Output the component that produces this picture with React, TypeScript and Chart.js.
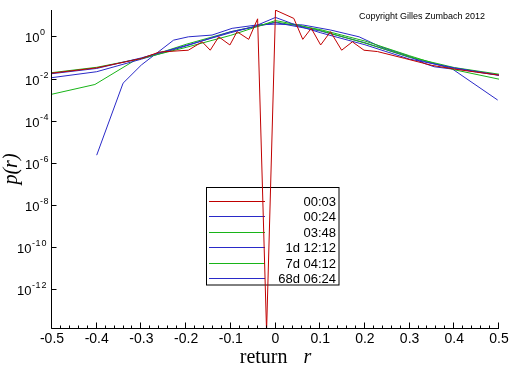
import React, { useEffect, useRef } from 'react';
import { Chart, registerables } from 'chart.js';

Chart.register(...registerables);

// ---------- data ----------
const seriesLabels = ['00:03', '00:24', '03:48', '1d 12:12', '7d 04:12', '68d 06:24'];
const seriesColors = ['#c00000', '#2a2ac8', '#18b418', '#2a2ac8', '#18b418', '#2a2ac8'];

const r0003 = [-0.5, -0.4, -0.3, -0.26, -0.195, -0.164, -0.146, -0.127, -0.102, -0.086, -0.06, -0.04, -0.02, 0, 0.041, 0.061, 0.08, 0.101, 0.123, 0.148, 0.172, 0.198, 0.228, 0.288, 0.35, 0.4, 0.45, 0.5];
const p0003 = [1.8e-2, 3.2e-2, 8.9e-2, 0.18, 0.22, 0.55, 0.22, 0.95, 0.39, 1.66, 0.72, 6.8, 1e-14, 17.5, 7.1, 0.72, 2.4, 0.39, 1.66, 0.22, 0.55, 0.22, 0.19, 9.1e-2, 4.2e-2, 2.8e-2, 2.0e-2, 1.45e-2];

const r0024 = [-0.5, -0.4, -0.3, -0.2, -0.1, -0.05, 0, 0.05, 0.1, 0.2, 0.3, 0.4, 0.5];
const p0024 = [1.7e-2, 3.0e-2, 9.5e-2, 0.37, 1.5, 2.8, 7.9, 3.2, 1.5, 0.40, 8.3e-2, 3.2e-2, 1.45e-2];

const r0348 = [-0.5, -0.4, -0.3, -0.2, -0.1, -0.05, 0, 0.05, 0.1, 0.2, 0.3, 0.4, 0.5];
const p0348 = [1.9e-2, 3.4e-2, 8.9e-2, 0.30, 1.12, 2.5, 5.6, 3.5, 1.9, 0.48, 0.105, 3.3e-2, 1.6e-2];

const r1d = [-0.5, -0.4, -0.3, -0.2, -0.1, 0, 0.1, 0.2, 0.3, 0.35, 0.4, 0.5];
const p1d = [1.1e-2, 2.1e-2, 8.3e-2, 0.35, 1.66, 4.5, 1.8, 0.50, 0.10, 5.2e-2, 3.0e-2, 1.4e-2];

const r7d = [-0.5, -0.404, -0.314, -0.25, -0.2, -0.1, 0, 0.1, 0.2, 0.3, 0.4, 0.5];
const p7d = [1.8e-3, 5.2e-3, 7.4e-2, 0.19, 0.42, 1.66, 4.8, 2.1, 0.60, 0.12, 2.6e-2, 9.3e-3];

const r68d = [-0.4, -0.341, -0.3, -0.228, -0.195, -0.142, -0.097, -0.04, 0, 0.06, 0.123, 0.187, 0.235, 0.303, 0.333, 0.355, 0.396, 0.497];
const p68d = [2.3e-6, 6.0e-3, 4.4e-2, 0.66, 0.95, 1.15, 2.4, 3.5, 3.8, 3.5, 2.0, 0.95, 0.32, 0.107, 5.2e-2, 3.6e-2, 2.8e-2, 9.5e-4];

const seriesR = [r0003, r0024, r0348, r1d, r7d, r68d];
const seriesP = [p0003, p0024, p0348, p1d, p7d, p68d];

const xTickLabels = ['-0.5', '-0.4', '-0.3', '-0.2', '-0.1', '0', '0.1', '0.2', '0.3', '0.4', '0.5'];
const yTickExponents = [0, -2, -4, -6, -8, -10, -12];
const copyrightText = 'Copyright Gilles Zumbach 2012';

const SANS = '"Liberation Sans", Arial, sans-serif';
const SERIF = '"Liberation Serif", "Times New Roman", serif';

const overlayPlugin = {
  id: 'overlay',
  beforeDatasetsDraw(chart: any) {
    const ctx = chart.ctx;
    ctx.save();
    const bx = 206.5, by = 187.5, bw = 132.5, bh = 97.5;
    ctx.fillStyle = '#fff';
    ctx.fillRect(bx, by, bw, bh);
    ctx.strokeStyle = '#000';
    ctx.lineWidth = 1;
    ctx.strokeRect(bx, by, bw, bh);
    seriesLabels.forEach((lab, i) => {
      const yy = Math.round(201 + i * 15.45) + 0.5;
      ctx.strokeStyle = seriesColors[i];
      ctx.beginPath();
      ctx.moveTo(209, yy);
      ctx.lineTo(265, yy);
      ctx.stroke();
      ctx.fillStyle = '#000';
      ctx.font = '13px ' + SANS;
      ctx.textAlign = 'right';
      ctx.textBaseline = 'middle';
      ctx.fillText(lab, 336, yy + 0.5);
    });
    ctx.restore();
  },
  afterDraw(chart: any) {
    const ctx = chart.ctx;
    const { left, right, top, bottom } = chart.chartArea;
    const xs = chart.scales.x;
    const ys = chart.scales.y;
    ctx.save();
    ctx.strokeStyle = '#000';
    ctx.lineWidth = 1;
    const ax = Math.round(left) - 0.5;
    const ay = Math.round(bottom) + 0.5;
    ctx.beginPath();
    ctx.moveTo(ax, top);
    ctx.lineTo(ax, ay);
    ctx.lineTo(right, ay);
    ctx.stroke();
    // x ticks (inward)
    for (let i = 0; i <= 50; i++) {
      const v = -0.5 + i * 0.02;
      const px = Math.round(xs.getPixelForValue(v)) - 0.5;
      const len = i % 5 === 0 ? 6 : 3;
      ctx.beginPath();
      ctx.moveTo(px, ay);
      ctx.lineTo(px, ay - len);
      ctx.stroke();
    }
    // y ticks and labels
    yTickExponents.forEach((e) => {
      const py = Math.round(ys.getPixelForValue(Math.pow(10, e))) + 0.5;
      ctx.beginPath();
      ctx.moveTo(ax, py);
      ctx.lineTo(ax + 5, py);
      ctx.stroke();
      const expStr = e === 0 ? '0' : '-' + String(-e);
      const twoDigit = Math.abs(e) >= 10;
      const bxStart = twoDigit ? 17 : 25;
      ctx.fillStyle = '#000';
      ctx.textAlign = 'left';
      ctx.textBaseline = 'alphabetic';
      ctx.font = '13px ' + SANS;
      ctx.fillText('10', bxStart, py + 5);
      const bw = ctx.measureText('10').width;
      ctx.font = '9px ' + SANS;
      let ex = bxStart + bw + 0.5;
      for (const ch of expStr) {
        ctx.fillText(ch, ex, py - 1.5);
        ex += ctx.measureText(ch).width + (ch === '-' ? 0.5 : 1);
      }
    });
    // axis titles
    ctx.fillStyle = '#000';
    ctx.textBaseline = 'alphabetic';
    ctx.font = '20px ' + SERIF;
    const wRet = ctx.measureText('return').width;
    ctx.font = 'italic 20px ' + SERIF;
    const wR = ctx.measureText('r').width;
    const gap = 16;
    const cx = (left + right) / 2;
    const startX = cx - (wRet + gap + wR) / 2;
    ctx.textAlign = 'left';
    ctx.font = '20px ' + SERIF;
    ctx.fillText('return', startX, 363);
    ctx.font = 'italic 20px ' + SERIF;
    ctx.fillText('r', startX + wRet + gap, 363);

    ctx.save();
    ctx.translate(17, (top + bottom) / 2);
    ctx.rotate(-Math.PI / 2);
    ctx.textAlign = 'center';
    ctx.font = 'italic 20px ' + SERIF;
    ctx.fillText('p(r)', 0, 0);
    ctx.restore();

    // copyright
    ctx.font = '9px ' + SANS;
    ctx.textAlign = 'left';
    ctx.fillText(copyrightText, 359, 19);
    ctx.restore();
  },
};

export default function App() {
  const canvasRef = useRef<HTMLCanvasElement | null>(null);
  useEffect(() => {
    if (!canvasRef.current) return;
    const datasets = seriesLabels.map((lab, i) => ({
      label: lab,
      data: seriesR[i].map((r, j) => ({ x: r, y: seriesP[i][j] })),
      borderColor: seriesColors[i],
      backgroundColor: seriesColors[i],
      borderWidth: 1,
      pointRadius: 0,
      showLine: true,
      tension: 0,
      fill: false,
    }));
    const chart = new Chart(canvasRef.current, {
      type: 'scatter',
      data: { datasets },
      options: {
        responsive: false,
        animation: false,
        devicePixelRatio: 1,
        layout: { padding: { top: 10, right: 13, left: 0, bottom: 0 } },
        plugins: { legend: { display: false }, tooltip: { enabled: false }, title: { display: false } },
        scales: {
          x: {
            type: 'linear',
            min: -0.5,
            max: 0.5,
            grid: { display: false, drawTicks: false },
            border: { display: false },
            ticks: {
              stepSize: 0.1,
              autoSkip: false,
              maxRotation: 0,
              padding: 3,
              color: '#000',
              font: { family: SANS, size: 14 },
              callback: (_v: any, idx: number) => xTickLabels[idx],
            },
            afterFit: (s: any) => { s.height = 38; },
          },
          y: {
            type: 'logarithmic',
            min: 1.45e-14,
            max: 17.8,
            grid: { display: false, drawTicks: false },
            border: { display: false },
            ticks: { display: false },
            afterFit: (s: any) => { s.width = 52; },
          },
        },
      } as any,
      plugins: [overlayPlugin],
    });
    return () => chart.destroy();
  }, []);
  return (
    <div style={{ position: 'absolute', left: 0, top: 0, width: 512, height: 366, background: '#fff' }}>
      <canvas ref={canvasRef} width={512} height={366} style={{ width: 512, height: 366 }} />
    </div>
  );
}
